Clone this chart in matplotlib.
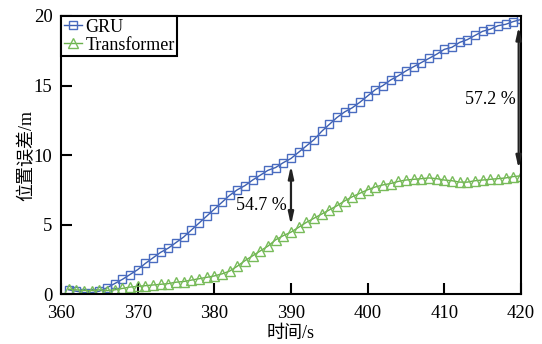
import numpy as np
import matplotlib.pyplot as plt

# data
t = np.arange(361, 421)

gru = [0.3, 0.2, 0.1, 0.1, 0.2, 0.45, 0.75, 1.05, 1.4, 1.75,
       2.2, 2.6, 3.0, 3.3, 3.7, 4.1, 4.6, 5.1, 5.6, 6.1,
       6.6, 7.1, 7.5, 7.8, 8.2, 8.55, 8.9, 9.1, 9.45, 9.75,
       10.2, 10.65, 11.1, 11.7, 12.2, 12.7, 13.1, 13.4, 13.8, 14.25,
       14.7, 15.0, 15.4, 15.7, 16.05, 16.35, 16.65, 16.95, 17.25, 17.6,
       17.75, 18.1, 18.3, 18.6, 18.9, 19.05, 19.3, 19.4, 19.6, 19.75]

transformer = [0.35, 0.3, 0.25, 0.25, 0.3, 0.25, 0.3, 0.4, 0.5, 0.55,
               0.6, 0.65, 0.7, 0.75, 0.85, 0.9, 1.0, 1.1, 1.2, 1.3,
               1.45, 1.65, 2.0, 2.4, 2.75, 3.1, 3.45, 3.9, 4.2, 4.45,
               4.8, 5.15, 5.45, 5.75, 6.05, 6.35, 6.7, 7.0, 7.25, 7.5,
               7.7, 7.85, 7.95, 8.1, 8.2, 8.25, 8.3, 8.35, 8.3, 8.2,
               8.15, 8.05, 8.05, 8.15, 8.2, 8.25, 8.3, 8.35, 8.45, 8.5]

labels = ['GRU', 'Transformer']
note_t = [390, 420]
note_txt = ['54.7 %', '57.2 %']

plt.rcParams['font.family'] = ['Liberation Serif', 'Noto Sans CJK SC']
plt.rcParams['font.size'] = 13

fig = plt.figure(figsize=(5.42, 3.44), dpi=100)
ax = fig.add_axes([0.1125, 0.1453, 0.8487, 0.8082])

ax.plot(t, gru, '-s', color='#3d5fb0', lw=1.0, ms=6.3, mfc='none',
        mec='#4a6cc0', mew=1.0, label=labels[0])
ax.plot(t, transformer, '-^', color='#6ab04c', lw=1.0, ms=7, mfc='none',
        mec='#78bb5a', mew=1.0, label=labels[1])

# double arrows between the curves
g = dict(zip(t, gru))
tr = dict(zip(t, transformer))
for x, dx in zip(note_t, [0, -0.3]):
    ax.annotate('', xy=(x + dx, tr[x]), xytext=(x + dx, g[x]),
                arrowprops=dict(arrowstyle='<|-|>,head_length=0.9,head_width=0.2',
                                color='#222222', lw=1.6, mutation_scale=8,
                                shrinkA=5, shrinkB=5))
ax.text(389.4, 6.35, note_txt[0], ha='right', va='center', fontsize=13)
ax.text(419.3, 14.0, note_txt[1], ha='right', va='center', fontsize=13)

ax.set_xlim(360, 420)
ax.set_ylim(0, 20)
ax.set_xticks(np.arange(360, 421, 10))
ax.set_yticks(np.arange(0, 21, 5))
ax.tick_params(direction='in', length=8, width=1.5, labelsize=13.5)
ax.tick_params(axis='x', pad=8)
ax.tick_params(axis='y', pad=6)
for sp in ax.spines.values():
    sp.set_linewidth(1.5)

ax.set_xlabel('时间/s', fontsize=13, labelpad=2)
ax.set_ylabel('位置误差/m', fontsize=13, labelpad=-1)

leg = ax.legend(loc='upper left', fancybox=False, framealpha=1,
                edgecolor='black', borderaxespad=0, borderpad=0.15,
                handlelength=1.0, handletextpad=0.2, labelspacing=0.05,
                fontsize=13)
leg.get_frame().set_linewidth(1.5)

fig.savefig('out.png', dpi=100)
